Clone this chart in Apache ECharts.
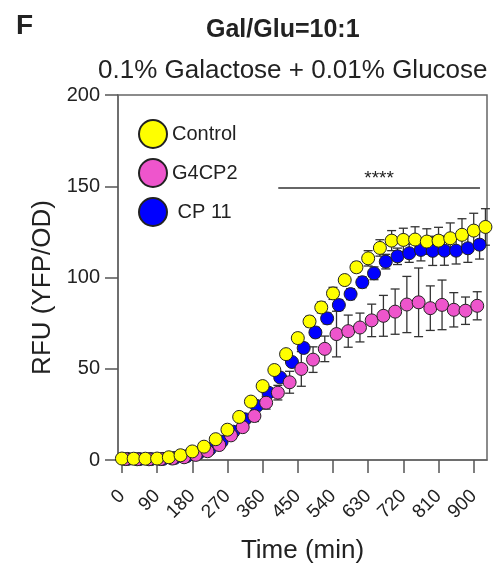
<!DOCTYPE html>
<html>
<head>
<meta charset="utf-8">
<script src="https://cdn.jsdelivr.net/npm/echarts@6/dist/echarts.min.js"></script>
<style>
  html, body { margin: 0; padding: 0; background: #fff; }
  #chart { width: 496px; height: 564px; }
</style>
</head>
<body>
<div id="chart"></div>
<script>
// time points (min) of each series
const controlTime = [0, 30, 60, 90, 120, 150, 180, 210, 240, 270, 300, 330, 360, 390, 420, 450, 480, 510, 540, 570, 600, 630, 660, 690, 720, 750, 780, 810, 840, 870, 900, 930]
const g4cp2Time = [9, 39, 69, 99, 129, 159, 189, 219, 249, 279, 309, 339, 369, 399, 429, 459, 489, 519, 549, 579, 609, 639, 669, 699, 729, 759, 789, 819, 849, 879, 909]
const cp11Time = [15, 45, 75, 105, 135, 165, 195, 225, 255, 285, 315, 345, 375, 405, 435, 465, 495, 525, 555, 585, 615, 645, 675, 705, 735, 765, 795, 825, 855, 885, 915]

const control = [0.8, 0.7, 0.7, 0.8, 1.5, 2.6, 4.7, 7.3, 11.4, 16.6, 23.6, 32.0, 40.5, 49.3, 58.0, 66.8, 75.9, 83.6, 91.3, 98.6, 105.6, 110.5, 116.2, 120.2, 120.6, 120.8, 119.7, 120.2, 121.5, 123.4, 125.7, 127.7]
const controlSd = [0.5, 0.5, 0.5, 0.5, 0.6, 0.7, 0.8, 1, 1.2, 1.4, 1.6, 1.8, 2, 2.2, 2.4, 2.6, 2.8, 3, 3.3, 2.4, 2.7, 4.2, 4.5, 5.5, 6.4, 7, 7, 7.3, 8.4, 8.8, 9.5, 10]

const g4cp2 = [0.5, 0.4, 0.4, 0.5, 0.8, 1.5, 2.8, 4.8, 8.2, 13.5, 18, 24.1, 31.4, 36.9, 42.6, 49.9, 55, 60.9, 69, 70.6, 72.6, 76.5, 79, 81.3, 85.2, 86.4, 83.2, 85, 82.3, 81.8, 84.5]
const g4cp2Sd = [0.4, 0.4, 0.4, 0.5, 0.6, 0.8, 1, 1.2, 1.5, 1.8, 2, 3, 3.5, 4, 6, 9.5, 7, 7, 12.5, 8.8, 7.9, 8.9, 11.2, 12.4, 15.4, 18.8, 12.2, 13.6, 9.4, 7.5, 7.7]

const cp11 = [0.6, 0.5, 0.5, 0.6, 1.1, 2, 3.6, 6, 10, 15.5, 22.3, 29.6, 36.9, 45.2, 53.7, 61.4, 69.9, 77.6, 84.9, 90.9, 97.4, 102.3, 108.7, 111.6, 113.3, 115.1, 114.6, 114.7, 114.7, 116, 118]
const cp11Sd = [0.4, 0.4, 0.4, 0.5, 0.6, 0.7, 0.8, 1, 1.2, 1.4, 1.6, 1.8, 2, 2.2, 2.4, 2.6, 2.8, 3, 3, 3, 3, 3.5, 4, 4.5, 5, 6, 8, 8, 7.3, 7.7, 7.9]

const xTicks = [0, 90, 180, 270, 360, 450, 540, 630, 720, 810, 900]
// significance bar: from / to (min), level (RFU)
const sigSpan = [400, 916]
const sigLevel = 149
const sigText = '****'

const font = '"Liberation Sans", Arial, Helvetica, sans-serif'
const edge = '#222'

function points(times, values) {
  return times.map((t, i) => [t, values[i]])
}

function bars(times, values, sds) {
  return times.map((t, i) => [t, values[i] - sds[i], values[i] + sds[i]])
}

function renderBar(params, api) {
  let lo = api.coord([api.value(0), api.value(1)])
  let hi = api.coord([api.value(0), api.value(2)])
  let w = 4.5
  let style = { stroke: '#333', lineWidth: 1.3 }
  return {
    type: 'group',
    children: [
      { type: 'line', shape: { x1: lo[0], y1: lo[1], x2: hi[0], y2: hi[1] }, style: style },
      { type: 'line', shape: { x1: hi[0] - w, y1: hi[1], x2: hi[0] + w, y2: hi[1] }, style: style },
      { type: 'line', shape: { x1: lo[0] - w, y1: lo[1], x2: lo[0] + w, y2: lo[1] }, style: style }
    ]
  }
}

function barSeries(data) {
  return { type: 'custom', renderItem: renderBar, data: data, z: 1, silent: true }
}

function dotSeries(name, color, data) {
  return {
    name: name,
    type: 'scatter',
    symbol: 'circle',
    symbolSize: 13,
    z: 2,
    itemStyle: { color: color, borderColor: edge, borderWidth: 1, opacity: 1 },
    data: data
  }
}

let chart = echarts.init(document.getElementById('chart'))

let yellow = dotSeries('Control', '#FFFF00', points(controlTime, control))
yellow.markLine = {
  silent: true,
  symbol: 'none',
  lineStyle: { color: '#333', width: 1.5, type: 'solid' },
  label: { show: true, position: 'middle', formatter: sigText, fontSize: 19, color: '#222', fontFamily: font, distance: 0 },
  data: [[{ coord: [sigSpan[0], sigLevel] }, { coord: [sigSpan[1], sigLevel] }]]
}

let option = {
  animation: false,
  textStyle: { fontFamily: font },
  title: [
    { text: 'F', left: 11, top: 7, textStyle: { fontSize: 28, fontWeight: 'bold', color: '#222', fontFamily: font } },
    { text: 'Gal/Glu=10:1', left: 201, top: 13, textStyle: { fontSize: 25, fontWeight: 'bold', color: '#222', fontFamily: font } },
    { text: '0.1% Galactose + 0.01% Glucose', left: 93, top: 53, textStyle: { fontSize: 26, fontWeight: 'normal', color: '#222', fontFamily: font } }
  ],
  legend: {
    orient: 'vertical',
    left: 133,
    top: 114,
    itemWidth: 28,
    itemHeight: 28,
    itemGap: 9,
    icon: 'circle',
    data: ['Control', 'G4CP2', ' CP 11'],
    textStyle: { fontSize: 20, color: '#222', fontFamily: font }
  },
  grid: {
    show: true,
    left: 118,
    right: 9,
    top: 95,
    bottom: 104,
    outerBoundsMode: 'none',
    containLabel: false,
    borderColor: '#666',
    borderWidth: 1.5,
    backgroundColor: 'transparent'
  },
  xAxis: {
    type: 'value',
    min: -10,
    max: 934,
    name: 'Time (min)',
    nameLocation: 'middle',
    nameGap: 78,
    nameTextStyle: { fontSize: 26, color: '#222', fontFamily: font },
    axisLine: { show: true, onZero: false, lineStyle: { color: '#666', width: 1.5 } },
    axisTick: { show: true, length: 13, customValues: xTicks, lineStyle: { color: '#555', width: 1.5 } },
    axisLabel: { customValues: xTicks, rotate: 45, fontSize: 19, margin: 33, color: '#222', fontFamily: font },
    splitLine: { show: false }
  },
  yAxis: {
    type: 'value',
    min: 0,
    max: 200,
    interval: 50,
    name: 'RFU (YFP/OD)',
    nameLocation: 'middle',
    nameGap: 55,
    nameTextStyle: { fontSize: 26, color: '#222', fontFamily: font, padding: [0, 20, 0, 0] },
    axisLine: { show: true, onZero: false, lineStyle: { color: '#666', width: 1.5 } },
    axisTick: { show: true, length: 13, lineStyle: { color: '#555', width: 1.5 } },
    axisLabel: { fontSize: 20, margin: 18, color: '#222', fontFamily: font },
    splitLine: { show: false }
  },
  series: [
    barSeries(bars(cp11Time, cp11, cp11Sd)),
    barSeries(bars(g4cp2Time, g4cp2, g4cp2Sd)),
    barSeries(bars(controlTime, control, controlSd)),
    dotSeries(' CP 11', '#0000FF', points(cp11Time, cp11)),
    dotSeries('G4CP2', '#EE55CC', points(g4cp2Time, g4cp2)),
    yellow
  ]
}
chart.setOption(option)
window.addEventListener('resize', () => chart.resize())
</script>
</body>
</html>
